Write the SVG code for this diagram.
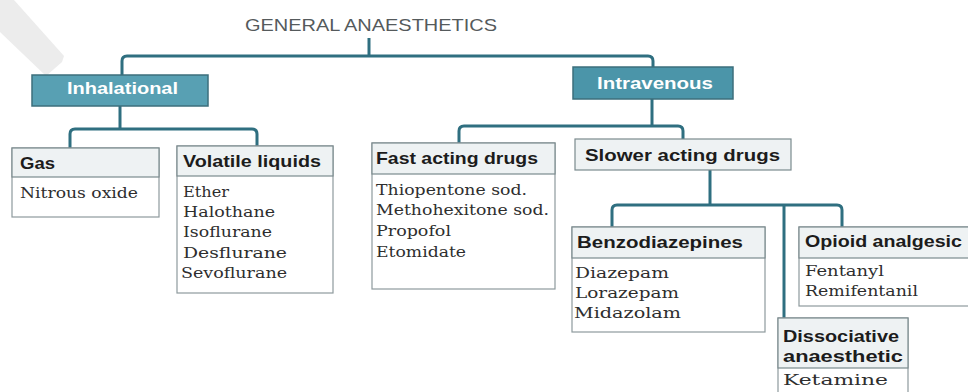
<svg xmlns="http://www.w3.org/2000/svg" width="968" height="392" viewBox="0 0 968 392">
<style>
  .bg{fill:#ffffff}
  .wm{fill:#ececec}
  .title{font-family:"Liberation Sans",Arial,sans-serif;font-size:16.5px;fill:#555a5c}
  .main{fill:#58a0b3;stroke:#3c6f7c;stroke-width:1.5}
  .mainTxt{font-family:"Liberation Sans",Arial,sans-serif;font-weight:bold;font-size:16px;fill:#ffffff}
  .hdr{fill:#eef2f3;stroke:#7b8a8e;stroke-width:1.2}
  .body{fill:#ffffff;stroke:#8e9a9d;stroke-width:1.2}
  .hTxt{font-family:"Liberation Sans",Arial,sans-serif;font-weight:bold;font-size:16.5px;fill:#1c1c1c}
  .bTxt{font-family:"DejaVu Serif","Liberation Serif",serif;font-size:15.5px;fill:#2e2e2e}
  .conn{fill:none;stroke:#2f6f80;stroke-width:3;stroke-linejoin:round}
</style>
<rect class="bg" x="0" y="0" width="968" height="392"/>
<polygon class="wm" points="0,0 14,0 64,56 62,62 46,76 0,32"/>

<text class="title" x="245" y="31" textLength="252" lengthAdjust="spacingAndGlyphs">GENERAL ANAESTHETICS</text>

<g id="connectors">
  <path class="conn" d="M369,38 V56"/>
  <path class="conn" d="M122,75 V61 Q122,56 127,56 H648 Q653,56 653,61 V67"/>
  <path class="conn" d="M120,106 V129"/>
  <path class="conn" d="M70,148 V134 Q70,129 75,129 H252 Q257,129 257,134 V146"/>
  <path class="conn" d="M652,99 V126"/>
  <path class="conn" d="M459,143 V131 Q459,126 464,126 H678 Q683,126 683,131 V139"/>
  <path class="conn" d="M710,170 V205"/>
  <path class="conn" d="M612,227 V210 Q612,205 617,205 H837 Q842,205 842,210 V227"/>
  <path class="conn" d="M784,205 V318"/>
</g>

<g id="inhalational">
  <rect class="main" x="32" y="75" width="176" height="31"/>
  <text class="mainTxt" x="67" y="94" textLength="111" lengthAdjust="spacingAndGlyphs">Inhalational</text>
</g>

<g id="intravenous">
  <rect class="main" x="573" y="67" width="160" height="32" style="fill:#4b95a9"/>
  <text class="mainTxt" x="597" y="89" textLength="116" lengthAdjust="spacingAndGlyphs">Intravenous</text>
</g>

<g id="gas">
  <rect class="body" x="12" y="148" width="147" height="69"/>
  <rect class="hdr" x="12" y="148" width="147" height="29"/>
  <text class="hTxt" x="20" y="169" textLength="35" lengthAdjust="spacingAndGlyphs">Gas</text>
  <text class="bTxt" x="20" y="198" textLength="118" lengthAdjust="spacingAndGlyphs">Nitrous oxide</text>
</g>

<g id="volatile">
  <rect class="body" x="177" y="146" width="156" height="147"/>
  <rect class="hdr" x="177" y="146" width="156" height="30"/>
  <text class="hTxt" x="183" y="167" textLength="138" lengthAdjust="spacingAndGlyphs">Volatile liquids</text>
  <text class="bTxt" x="183" y="197" textLength="46" lengthAdjust="spacingAndGlyphs">Ether</text>
  <text class="bTxt" x="183" y="217" textLength="92" lengthAdjust="spacingAndGlyphs">Halothane</text>
  <text class="bTxt" x="183" y="237" textLength="89" lengthAdjust="spacingAndGlyphs">Isoflurane</text>
  <text class="bTxt" x="183" y="258" textLength="104" lengthAdjust="spacingAndGlyphs">Desflurane</text>
  <text class="bTxt" x="181" y="278" textLength="106" lengthAdjust="spacingAndGlyphs">Sevoflurane</text>
</g>

<g id="fast">
  <rect class="body" x="372" y="143" width="183" height="146"/>
  <rect class="hdr" x="372" y="143" width="183" height="31"/>
  <text class="hTxt" x="376" y="164" textLength="162" lengthAdjust="spacingAndGlyphs">Fast acting drugs</text>
  <text class="bTxt" x="376" y="195" textLength="151" lengthAdjust="spacingAndGlyphs">Thiopentone sod.</text>
  <text class="bTxt" x="376" y="215" textLength="173" lengthAdjust="spacingAndGlyphs">Methohexitone sod.</text>
  <text class="bTxt" x="376" y="236" textLength="75" lengthAdjust="spacingAndGlyphs">Propofol</text>
  <text class="bTxt" x="376" y="257" textLength="90" lengthAdjust="spacingAndGlyphs">Etomidate</text>
</g>

<g id="slower">
  <rect class="hdr" x="575" y="139" width="216" height="31"/>
  <text class="hTxt" x="585" y="161" textLength="195" lengthAdjust="spacingAndGlyphs">Slower acting drugs</text>
</g>

<g id="benzodiazepines">
  <rect class="body" x="572" y="227" width="193" height="105"/>
  <rect class="hdr" x="572" y="227" width="193" height="31"/>
  <text class="hTxt" x="577" y="248" textLength="166" lengthAdjust="spacingAndGlyphs">Benzodiazepines</text>
  <text class="bTxt" x="575" y="278" textLength="94" lengthAdjust="spacingAndGlyphs">Diazepam</text>
  <text class="bTxt" x="575" y="298" textLength="104" lengthAdjust="spacingAndGlyphs">Lorazepam</text>
  <text class="bTxt" x="574" y="318" textLength="107" lengthAdjust="spacingAndGlyphs">Midazolam</text>
</g>

<g id="opioid">
  <rect class="body" x="799" y="227" width="180" height="79"/>
  <rect class="hdr" x="799" y="227" width="180" height="31"/>
  <text class="hTxt" x="805" y="247" textLength="157" lengthAdjust="spacingAndGlyphs">Opioid analgesic</text>
  <text class="bTxt" x="805" y="276" textLength="79" lengthAdjust="spacingAndGlyphs">Fentanyl</text>
  <text class="bTxt" x="805" y="296" textLength="113" lengthAdjust="spacingAndGlyphs">Remifentanil</text>
</g>

<g id="dissociative">
  <rect class="body" x="778" y="318" width="130" height="90"/>
  <rect class="hdr" x="778" y="318" width="130" height="50"/>
  <text class="hTxt" x="783" y="342" textLength="116" lengthAdjust="spacingAndGlyphs">Dissociative</text>
  <text class="hTxt" x="783" y="362" textLength="120" lengthAdjust="spacingAndGlyphs">anaesthetic</text>
  <text class="bTxt" x="783" y="385" textLength="105" lengthAdjust="spacingAndGlyphs">Ketamine</text>
</g>
</svg>
